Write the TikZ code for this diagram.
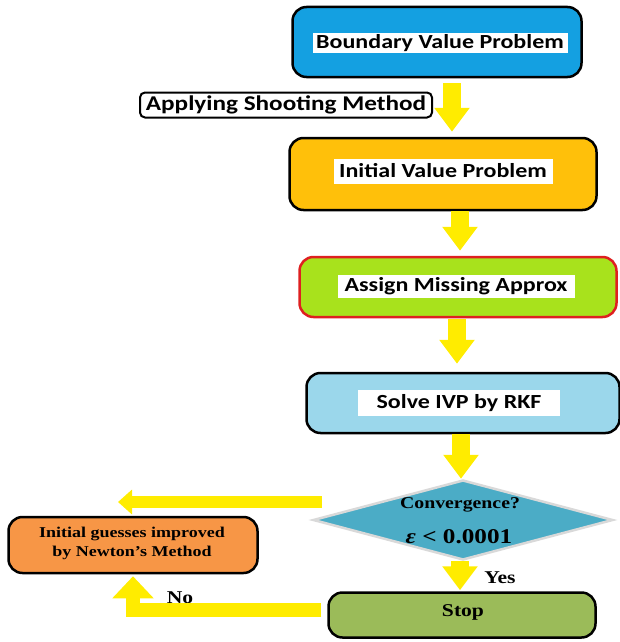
\documentclass[tikz,border=0pt]{standalone}
\usepackage{xcolor}
\usepackage{fontspec}
\setmainfont{Liberation Serif}[FakeStretch=1.2]
\newfontfamily\boxfont{Carlito}[FakeStretch=1.2]
\usepackage{tikz}
\usetikzlibrary{positioning,shapes,arrows.meta}
\definecolor{bvpblue}{RGB}{20,160,225}
\definecolor{ivpgold}{RGB}{255,192,10}
\definecolor{assigngreen}{RGB}{168,226,28}
\definecolor{assignred}{RGB}{222,32,32}
\definecolor{rkfblue}{RGB}{155,215,235}
\definecolor{convblue}{RGB}{75,172,198}
\definecolor{stopgreen}{RGB}{155,187,89}
\definecolor{guessorange}{RGB}{247,150,70}
\definecolor{flowyellow}{RGB}{255,236,0}
\tikzset{
  every overlay node/.style={}
}

\begin{document}
\begin{tikzpicture}[x=1pt,y=-1pt,
							stage/.style = {draw=black, line width=2.5pt, rounded corners=14pt, inner sep=0pt},
							tag/.style = {fill=white, inner sep=0pt, font=\boxfont\bfseries\fontsize{20}{22}\selectfont},
							serif/.style = {inner sep=0pt, font=\bfseries\fontsize{18}{20}\selectfont},
							flow/.style = {draw=flowyellow, line width=18pt, -{Triangle[width=34pt,length=24pt]}},
							backflow/.style = {draw=flowyellow, line width=14pt, line join=miter, -{Triangle[width=40pt,length=22pt]}}]
			\useasboundingbox (0,0) rectangle (620,642);
			\node[stage, fill=bvpblue, minimum width=289pt, minimum height=70pt] (bvp) at (437,42) {};
			\node[tag, minimum width=255pt, minimum height=20pt] (bvp-t) at (440,43) {Boundary Value Problem};
			\node[draw=black, line width=2pt, rounded corners=5pt, fill=white, minimum width=292pt, minimum height=25pt, inner sep=0pt,
				font=\boxfont\bfseries\fontsize{21}{23}\selectfont] (shoot) at (286,105) {Applying Shooting Method};
			\node[stage, fill=ivpgold, minimum width=307pt, minimum height=72pt] (ivp) at (443,174) {};
			\node[tag, minimum width=219pt, minimum height=25pt] (ivp-t) at (443,171) {Initial Value Problem};
			\node[stage, draw=assignred, fill=assigngreen, minimum width=317pt, minimum height=60pt] (assign) at (458,287) {};
			\node[tag, minimum width=237pt, minimum height=23pt] (assign-t) at (456,286) {Assign Missing Approx};
			\node[stage, fill=rkfblue, minimum width=313pt, minimum height=60pt] (rkf) at (463,403) {};
			\node[tag, minimum width=202pt, minimum height=26pt] (rkf-t) at (459,403) {Solve IVP by RKF};
			\node[diamond, draw=black!15, line width=2.5pt, fill=convblue, minimum width=300pt, minimum height=80pt, inner sep=0pt] (conv) at (463,520) {};
			\node[serif, font=\bfseries\fontsize{16.5}{18}\selectfont] (conv-q) at (460,505) {Convergence?};
			\node[serif, font=\bfseries\fontsize{21}{23}\selectfont] (conv-e) at (459,537) {{\itshape ε} < 0.0001};
			\node[stage, fill=stopgreen, minimum width=267pt, minimum height=45pt] (stop) at (462,615) {};
			\node[serif] (stop-t) at (463,612) {Stop};
			\node[stage, fill=guessorange, minimum width=249pt, minimum height=56pt] (guess) at (133,545) {};
			\node[serif, align=center, font=\bfseries\fontsize{15}{19}\selectfont] (guess-t) at (132,543) {Initial guesses improved\\by Newton's Method};
			\node[serif] (yes) at (500,578) {Yes};
			\node[serif] (no) at (180,598) {No};
			\coordinate (back-a) at (322,502);
			\coordinate (back-b) at (118,502);
			
			\draw[flow, shorten <=5pt, shorten >=5pt] ([xshift=15pt]bvp.south) to ([xshift=9pt]ivp.north);
			\draw[flow, shorten >=5pt] ([xshift=17pt]ivp.south) to ([xshift=17pt]ivp.south |- assign.north);
			\draw[flow, shorten <=1pt, shorten >=8pt] ([xshift=-1pt]assign.south) to ([xshift=-1pt]assign.south |- rkf.north);
			\draw[flow] ([xshift=-2pt]rkf.south) to ([xshift=-2pt]conv.north);
			\draw[flow, shorten >=1pt] ([xshift=-3pt]conv.south) to ([xshift=-3pt]conv.south |- stop.north);
			\draw[backflow, line width=12pt, -{Triangle[width=24pt,length=14pt]}] (back-a) to (back-b);
			\draw[backflow, shorten >=2pt] ([shift={(-6pt,5pt)}]stop.west) -| (guess.south);
		\end{tikzpicture}
\end{document}
